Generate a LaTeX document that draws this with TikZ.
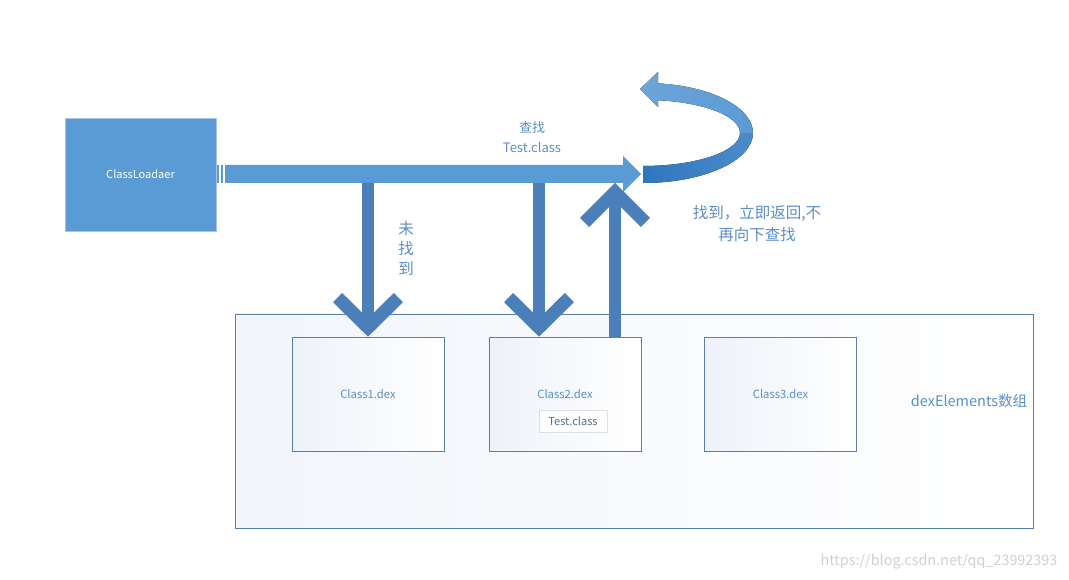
\documentclass[tikz,border=0pt]{standalone}
\usepackage{fontspec}
\setmainfont{Noto Sans CJK SC}
\definecolor{boxblue}{HTML}{5B9BD5}
\definecolor{boxedge}{HTML}{A9C4E4}
\definecolor{darkarr}{HTML}{4A7FBA}
\definecolor{ribdark}{HTML}{2F77BD}
\definecolor{ribmid}{HTML}{4B8BCB}
\definecolor{txtblue}{HTML}{5B8FC8}
\definecolor{frameblue}{HTML}{5A7FA8}
\definecolor{lightgrad}{HTML}{EEF2F9}
\definecolor{testtxt}{HTML}{4E6F91}
\tikzset{
  loader/.style={fill=boxblue, draw=boxedge, line width=0.8pt, minimum width=151pt, minimum height=113pt, inner sep=0pt, text=white, font=\fontsize{11}{13}\selectfont},
  dexbox/.style={draw=frameblue, line width=0.9pt, left color=lightgrad, right color=white, minimum width=152pt, minimum height=114pt, inner sep=0pt, text=txtblue, font=\fontsize{11.3}{13}\selectfont},
  arraybox/.style={draw=frameblue, line width=0.9pt, left color=lightgrad!80, right color=white, minimum width=798pt, minimum height=214pt, inner sep=0pt},
  testbox/.style={draw=black!12, line width=0.8pt, fill=white, minimum width=68pt, minimum height=22pt, inner sep=0pt, text=testtxt, font=\fontsize{11}{13}\selectfont},
  lbl/.style={text=txtblue, font=\fontsize{13}{20}\selectfont, align=center, inner sep=0pt},
  cjklbl/.style={text=txtblue, font=\fontsize{15.5}{22}\selectfont, align=center, inner sep=0pt},
  shaft/.style={draw=darkarr, line width=12pt},
  chevron/.style={draw=darkarr, line width=13pt, line join=miter},
}
\begin{document}
\begin{tikzpicture}[x=1pt,y=-1pt]
\useasboundingbox[fill=white] (0,0) rectangle (1069,580);

% array box and dex boxes
\node[arraybox] (arr) at (634,421) {};
\node[dexbox] (c1) at (368,394) {Class1.dex};
\node[dexbox] (c2) at (565,394) {Class2.dex};
\node[dexbox] (c3) at (780.5,394) {Class3.dex};
\node[testbox] (tc) at (573,421) {Test.class};
\node[text=txtblue, font=\fontsize{14.5}{18}\selectfont, inner sep=0pt] (arrlbl) at (969,401) {dexElements数组};

% class loader
\node[loader] (cl) at (140.5,174.5) {ClassLoadaer};

% main horizontal block arrow
\fill[boxblue] (217,165) rectangle (219,183);
\fill[boxblue] (220.5,165) rectangle (222.5,183);
\fill[boxblue] (225,165) -- (623,165) -- (623,156) -- (641,174) -- (623,192) -- (623,183) -- (225,183) -- cycle;
\coordinate (tip) at (641,174);

% curved return ribbon
\fill[left color=ribdark, right color=ribmid]
  (643,183) arc[start angle=90, end angle=0, x radius=110, y radius=50]
  -- (740,133) arc[start angle=0, end angle=90, x radius=97, y radius=33] -- cycle;
\fill[left color=boxblue!90!white, right color=boxblue]
  (753,133) arc[start angle=0, end angle=-83, x radius=108, y radius=50]
  -- (658,72) -- (640,89) -- (658,107) -- (658.2,100.3)
  arc[start angle=-82, end angle=0, x radius=95, y radius=33] -- cycle;

\node[lbl] (find) at (532,137) {查找\\Test.class};

% down arrow to Class1.dex
\coordinate (d1s) at (368,183);
\draw[shaft] (d1s) -- ([yshift=12pt]c1.north);
\draw[chevron] (337.6,297.6) -- ([yshift=9pt]c1.north) -- (398.4,297.6);

% down arrow to Class2.dex
\coordinate (d2s) at (539,183);
\coordinate (d2e) at ([xshift=-26pt]c2.north);
\draw[shaft] (d2s) -- ([yshift=12pt]d2e);
\draw[chevron] (508.6,297.6) -- ([yshift=9pt]d2e) -- (569.4,297.6);

% up arrow from Class2.dex
\coordinate (u2s) at ([xshift=50pt]c2.north);
\coordinate (u2e) at (615,183);
\draw[shaft] (u2s) -- ([yshift=-12pt]u2e);
\draw[chevron] (584.6,222.4) -- ([yshift=-9pt]u2e) -- (645.4,222.4);

% labels
\node[cjklbl, align=center, font=\fontsize{15.5}{20}\selectfont] (nf) at (406,248) {未\\找\\到};
\node[cjklbl] (found) at (757,224) {找到，立即返回,不\\再向下查找};

% watermark
\node[text=black!18, font=\fontsize{14.4}{16}\selectfont, inner sep=0pt] (wm) at (939,562) {https://blog.csdn.net/qq\_23992393};
\end{tikzpicture}
\end{document}
